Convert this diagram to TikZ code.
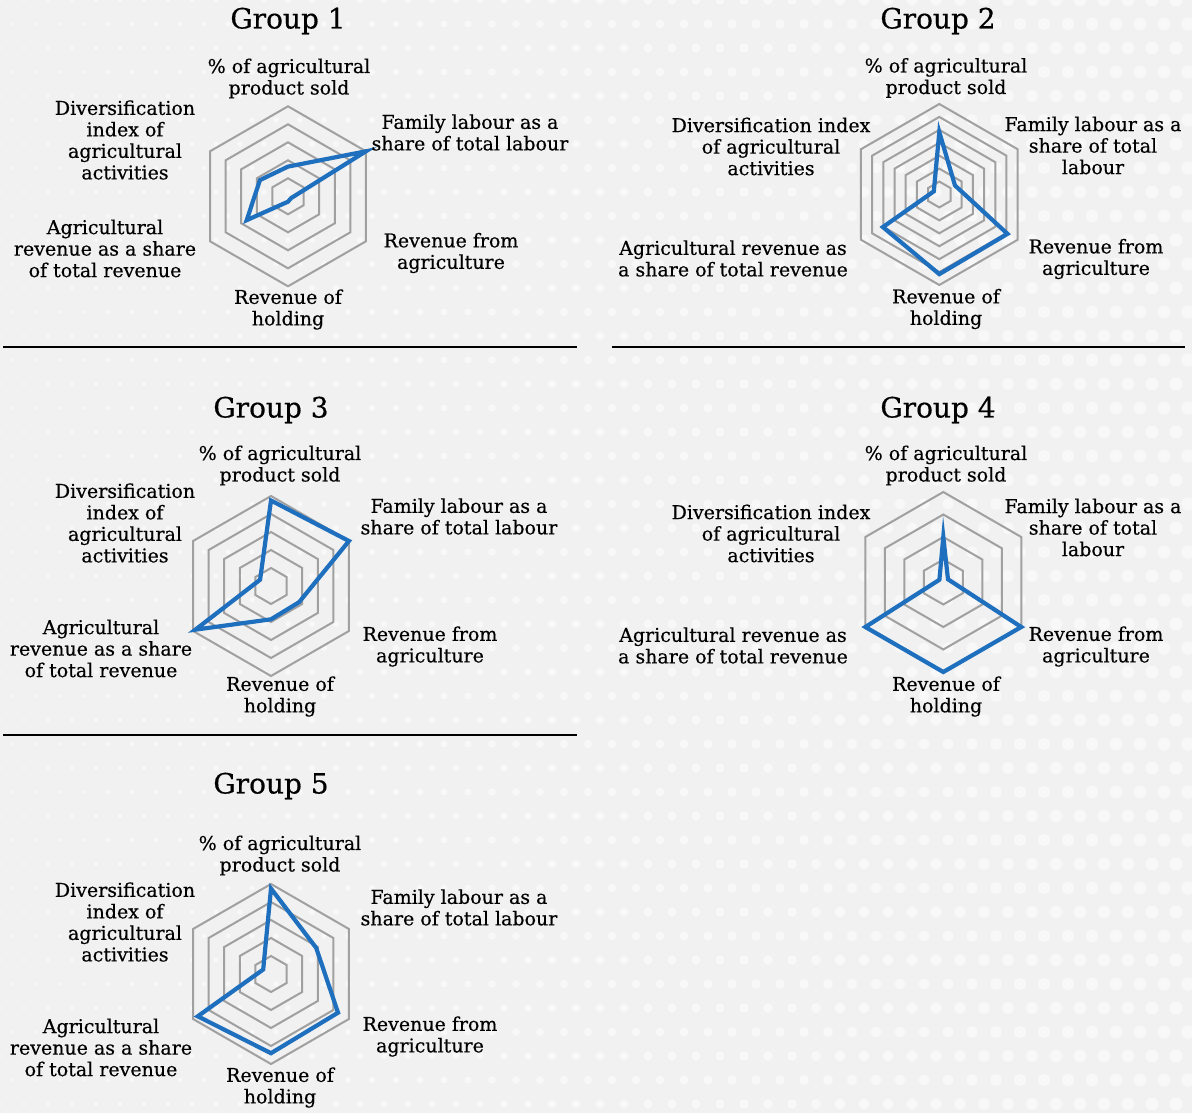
\documentclass[tikz,border=0pt]{standalone}
\usepackage{fontspec}
\setmainfont{DejaVu Serif}[FakeBold=0.45]
\definecolor{gridgray}{HTML}{A0A0A0}
\definecolor{seriesblue}{HTML}{1F6FBF}
\definecolor{pagebg}{HTML}{F1F1F1}
% one hexagonal grid ring: centre (#1,#2), radius #3
\newcommand\hexring[3]{%
  \draw[gridline] ({#1},{#2-#3}) -- ({#1+0.8660*#3},{#2-0.5*#3})
    -- ({#1+0.8660*#3},{#2+0.5*#3}) -- ({#1},{#2+#3})
    -- ({#1-0.8660*#3},{#2+0.5*#3}) -- ({#1-0.8660*#3},{#2-0.5*#3}) -- cycle;}
% #4 equally spaced rings up to radius #3
\newcommand\radarrings[4]{%
  \foreach \k in {1,...,#4}{\pgfmathsetmacro\rr{#3*\k/#4}\hexring{#1}{#2}{\rr}}}
% data polygon, values #4..#9 clockwise from the top axis
\newcommand\radarseries[9]{%
  \draw[dataline] ({#1},{#2-#3*#4}) -- ({#1+0.8660*#3*#5},{#2-0.5*#3*#5})
    -- ({#1+0.8660*#3*#6},{#2+0.5*#3*#6}) -- ({#1},{#2+#3*#7})
    -- ({#1-0.8660*#3*#8},{#2+0.5*#3*#8}) -- ({#1-0.8660*#3*#9},{#2-0.5*#3*#9}) -- cycle;}
\begin{document}
\begin{tikzpicture}[x=1pt,y=-1pt,
  gridline/.style={draw=gridgray,line width=2pt},
  dataline/.style={draw=seriesblue,line width=4.2pt},
  axislabel/.style={align=center,font=\fontsize{19}{21.5}\selectfont,inner sep=0pt},
  grouptitle/.style={font=\fontsize{28}{30}\selectfont,inner sep=0pt},
  separator/.style={draw=black,line width=1.8pt}]

% page and dotted texture
\fill[pagebg] (0,0) rectangle (1192,1113);
\useasboundingbox (0,0) rectangle (1192,1113);
\foreach \i in {0,...,49}{
  \pgfmathsetmacro\dotr{1.6+5.0*\i/49}
  \foreach \j in {0,...,46}{
    \fill[white,opacity=0.55] ({\i*24+12*mod(\j,2)},{\j*24}) circle (\dotr);
  }}

% separators
\draw[separator] (3,347) -- (577,347);
\draw[separator] (612,347) -- (1185,347);
\draw[separator] (3,735) -- (577,735);

% ---------------- Group 1
\node[grouptitle] (t1) at (288,21) {Group 1};
\radarrings{288}{196.3}{90}{5}
\radarseries{288}{196.3}{90}{0.33}{1.0}{0.04}{0.06}{0.53}{0.36}
\node[axislabel] (g1sold) at (289,78.5) {\% of agricultural\\product sold};
\node[axislabel] (g1fam) at (470,132.5) {Family labour as a\\share of total labour};
\node[axislabel] (g1rev) at (451,253) {Revenue from\\agriculture};
\node[axislabel] (g1hold) at (288,309.5) {Revenue of\\holding};
\node[axislabel] (g1share) at (105,248.5) {Agricultural\\revenue as a share\\of total revenue};
\node[axislabel] (g1div) at (125,140) {Diversification\\index of\\agricultural\\activities};

% ---------------- Group 2
\node[grouptitle] (t2) at (938,21) {Group 2};
\radarrings{939.3}{194.5}{90.5}{7}
\radarseries{939.3}{194.5}{90.5}{0.69}{0.2}{0.87}{0.88}{0.72}{0.07}
\node[axislabel] (g2sold) at (946,78) {\% of agricultural\\product sold};
\node[axislabel] (g2fam) at (1093,145.5) {Family labour as a\\share of total\\labour};
\node[axislabel] (g2rev) at (1096,259) {Revenue from\\agriculture};
\node[axislabel] (g2hold) at (946,309) {Revenue of\\holding};
\node[axislabel] (g2share) at (733,258.5) {Agricultural revenue as\\a share of total revenue};
\node[axislabel] (g2div) at (771,146.5) {Diversification index\\of agricultural\\activities};

% ---------------- Group 3
\node[grouptitle] (t3) at (271,410) {Group 3};
\radarrings{271}{586}{90}{5}
\radarseries{271}{586}{90}{0.95}{1.0}{0.36}{0.37}{0.97}{0.14}
\node[axislabel] (g3sold) at (280,465.5) {\% of agricultural\\product sold};
\node[axislabel] (g3fam) at (459,516.5) {Family labour as a\\share of total labour};
\node[axislabel] (g3rev) at (430,646.5) {Revenue from\\agriculture};
\node[axislabel] (g3hold) at (280,696.5) {Revenue of\\holding};
\node[axislabel] (g3share) at (101,648.5) {Agricultural\\revenue as a share\\of total revenue};
\node[axislabel] (g3div) at (125,523) {Diversification\\index of\\agricultural\\activities};

% ---------------- Group 4
\node[grouptitle] (t4) at (938,410) {Group 4};
\radarrings{943.3}{582}{90}{4}
\radarseries{943.3}{582}{90}{0.5}{0.06}{1.0}{1.0}{1.0}{0.05}
\node[axislabel] (g4sold) at (946,465.5) {\% of agricultural\\product sold};
\node[axislabel] (g4fam) at (1093,527.5) {Family labour as a\\share of total\\labour};
\node[axislabel] (g4rev) at (1096,646.5) {Revenue from\\agriculture};
\node[axislabel] (g4hold) at (946,696.5) {Revenue of\\holding};
\node[axislabel] (g4share) at (733,645.5) {Agricultural revenue as\\a share of total revenue};
\node[axislabel] (g4div) at (771,533.5) {Diversification index\\of agricultural\\activities};

% ---------------- Group 5
\node[grouptitle] (t5) at (271,786) {Group 5};
\radarrings{271}{974}{90}{5}
\radarseries{271}{974}{90}{0.95}{0.58}{0.86}{0.88}{0.94}{0.1}
\node[axislabel] (g5sold) at (280,855.5) {\% of agricultural\\product sold};
\node[axislabel] (g5fam) at (459,907.5) {Family labour as a\\share of total labour};
\node[axislabel] (g5rev) at (430,1036.5) {Revenue from\\agriculture};
\node[axislabel] (g5hold) at (280,1087.5) {Revenue of\\holding};
\node[axislabel] (g5share) at (101,1047.5) {Agricultural\\revenue as a share\\of total revenue};
\node[axislabel] (g5div) at (125,922) {Diversification\\index of\\agricultural\\activities};
\end{tikzpicture}
\end{document}
